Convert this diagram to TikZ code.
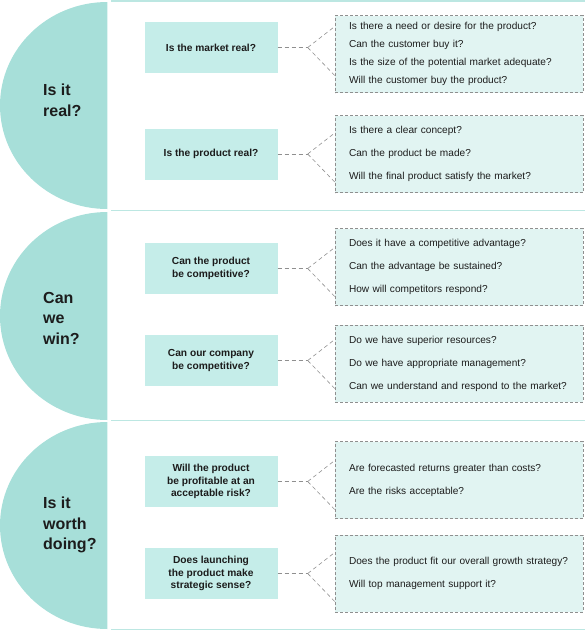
\documentclass[tikz,border=0pt]{standalone}
\usepackage{fontspec}
\setmainfont{Liberation Sans}
\usetikzlibrary{positioning, calc}
\definecolor{DiscTeal}{HTML}{A7DFD9}
\definecolor{BoxTeal}{HTML}{C5EDE9}
\definecolor{PaleTeal}{HTML}{E1F4F2}
\definecolor{RuleTeal}{HTML}{BCE7E2}
\definecolor{DashGrey}{HTML}{8F8F8F}
\definecolor{InkDark}{HTML}{1C1C1C}

\begin{document}
\begin{tikzpicture}[x=1pt, y=-1pt,
      node distance=57pt,
      disc/.style={fill=DiscTeal},
      rule/.style={draw=RuleTeal, line width=1.4pt},
      stage/.style={anchor=north west, inner sep=0pt, align=left, text=InkDark,
                    font=\bfseries\fontsize{16}{20.5}\selectfont},
      quest/.style={fill=BoxTeal, minimum width=133pt, minimum height=51pt,
                    inner sep=2pt, align=center, text=InkDark,
                    font=\bfseries\fontsize{10.2}{12.5}\selectfont},
      asks/.style={fill=PaleTeal, draw=DashGrey, line width=0.7pt,
                   dash pattern=on 3pt off 2pt, text width=220pt, inner xsep=14pt,
                   inner ysep=2pt, minimum height=77pt, align=left, text=InkDark,
                   font=\fontsize{10.1}{23}\selectfont},
      fan/.style={draw=DashGrey, line width=0.6pt, dash pattern=on 4pt off 3pt}]
    \useasboundingbox (0,0) rectangle (585,630);
    % half discs and section rules
    \fill[disc] (107.3,209) arc[start angle=90, end angle=270, x radius=107.3, y radius=103.5] -- cycle;
    \fill[disc] (107.3,420) arc[start angle=90, end angle=270, x radius=107.3, y radius=104] -- cycle;
    \fill[disc] (107.3,629) arc[start angle=90, end angle=270, x radius=107.3, y radius=103.5] -- cycle;
    \draw[rule] (111,0.8) -- (585,0.8);
    \draw[rule] (111,210.7) -- (585,210.7);
    \draw[rule] (111,420.7) -- (585,420.7);
    \draw[rule] (111,629.2) -- (585,629.2);
    \node[stage] (real) at (43,84) {Is it\\real?};
    \node[stage] (win) at (43,292) {Can\\we\\win?};
    \node[stage] (worth) at (43,497) {Is it\\worth\\doing?};
    % questions
    \node[quest] (q1) at (211,47.5) {Is the market real?};
    \node[quest] (q2) at (211,154) {Is the product real?};
    \node[quest] (q3) at (211,268.5) {Can the product\\be competitive?};
    \node[quest] (q4) at (211,360.5) {Can our company\\be competitive?};
    \node[quest] (q5) at (211,481.5) {Will the product\\be profitable at an\\acceptable risk?};
    \node[quest] (q6) at (211,573.5) {Does launching\\the product make\\strategic sense?};
    % checks
    \node[asks, right=of q1, yshift=-6.5pt, font=\fontsize{10.1}{18}\selectfont] (a1)
      {Is there a need or desire for the product?\\Can the customer buy it?\\Is the size of the potential market adequate?\\Will the customer buy the product?};
    \node[asks, right=of q2] (a2)
      {Is there a clear concept?\\Can the product be made?\\Will the final product satisfy the market?};
    \node[asks, right=of q3, yshift=1.5pt] (a3)
      {Does it have a competitive advantage?\\Can the advantage be sustained?\\How will competitors respond?};
    \node[asks, right=of q4, yshift=-3pt] (a4)
      {Do we have superior resources?\\Do we have appropriate management?\\Can we understand and respond to the market?};
    \node[asks, right=of q5, yshift=1.5pt] (a5)
      {Are forecasted returns greater than costs?\\Are the risks acceptable?};
    \node[asks, right=of q6] (a6)
      {Does the product fit our overall growth strategy?\\Will top management support it?};
    % dashed forks
    \foreach \i in {1,...,6} {
      \coordinate (f\i) at ($(q\i.east)+(30pt,0pt)$);
      \draw[fan] (q\i.east) -- (f\i);
      \draw[fan] (f\i) -- ($(a\i.west |- f\i)+(0pt,21pt)$);
      \draw[fan] (f\i) -- ($(a\i.west |- f\i)+(0pt,-28pt)$);
    }
  \end{tikzpicture}
\end{document}
